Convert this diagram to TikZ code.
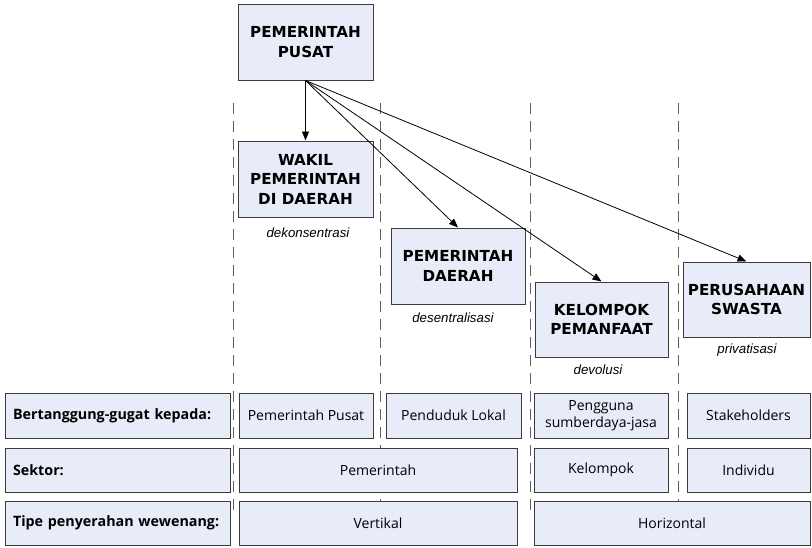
\documentclass[tikz,border=0pt]{standalone}
\usepackage{fontspec}
\setmainfont{Open Sans}
\newfontfamily\titlefont{DejaVu Sans}
\newfontfamily\notefont{Liberation Sans}
\usetikzlibrary{arrows.meta}
\definecolor{boxfill}{HTML}{E8ECF8}
\definecolor{boxline}{HTML}{3C3C3C}
\definecolor{sepline}{HTML}{606060}
\tikzset{
  box/.style={draw=boxline, fill=boxfill, line width=1pt, inner sep=0pt, align=center},
  titlebox/.style={box, font=\titlefont\bfseries\fontsize{15.2}{19.5}\selectfont},
  rowlabel/.style={box, font=\bfseries\fontsize{14.3}{16}\selectfont, text width=209pt, inner xsep=8pt, align=left, minimum width=225pt},
  cell/.style={box, font=\fontsize{14}{17}\selectfont},
  note/.style={font=\notefont\itshape\fontsize{13.3}{15}\selectfont},
  flow/.style={-{Triangle[length=9pt,width=7pt]}, line width=0.8pt, black},
  separator/.style={draw=sepline, line width=1pt, dash pattern=on 11pt off 7pt}
}
\begin{document}
\begin{tikzpicture}[x=1pt,y=-1pt]
\useasboundingbox (0,0) rectangle (812,547);

% column separators (drawn first so the boxes cover them)
\foreach \xs in {233,380,530,678}
  \draw[separator] (\xs,103) -- (\xs,510);

% organisational units
\node[titlebox, minimum width=135pt, minimum height=76pt] (pusat) at (305.5,42) {PEMERINTAH\\PUSAT};
\node[titlebox, minimum width=135pt, minimum height=76pt] (wakil) at (305.5,179) {WAKIL\\PEMERINTAH\\DI DAERAH};
\node[titlebox, minimum width=134pt, minimum height=76pt] (daerah) at (458,266) {PEMERINTAH\\DAERAH};
\node[titlebox, minimum width=133pt, minimum height=75pt] (kelompok) at (601.5,319.5) {KELOMPOK\\PEMANFAAT};
\node[titlebox, minimum width=127pt, minimum height=75pt] (swasta) at (746.5,299.5) {PERUSAHAAN\\SWASTA};

% type of transfer under each unit
\node[note] (dek) at (308,233) {dekonsentrasi};
\node[note] (des) at (453,318) {desentralisasi};
\node[note] (dev) at (598,370) {devolusi};
\node[note] (priv) at (747,350) {privatisasi};

% transfer arrows
\draw[flow] (pusat.south) -- (wakil.north);
\draw[flow] (pusat.south) -- (daerah.north);
\draw[flow] (pusat.south) -- (kelompok.north);
\draw[flow] (pusat.south) -- (swasta.north);

% row headings
\node[rowlabel, minimum height=45pt] (r1) at (117.5,415.5) {Bertanggung-gugat kepada:};
\node[rowlabel, minimum height=44pt] (r2) at (117.5,470) {Sektor:};
\node[rowlabel, minimum height=44pt] (r3) at (117.5,523) {Tipe penyerahan wewenang:};

% accountability
\node[cell, minimum width=134pt, minimum height=45pt] (a1) at (306,415.5) {Pemerintah Pusat};
\node[cell, minimum width=135pt, minimum height=45pt] (a2) at (453.5,415.5) {Penduduk Lokal};
\node[cell, minimum width=134pt, minimum height=45pt] (a3) at (601,415.5) {Pengguna\\sumberdaya-jasa};
\node[cell, minimum width=123pt, minimum height=45pt] (a4) at (748.5,415.5) {Stakeholders};

% sector
\node[cell, minimum width=278pt, minimum height=44pt] (s1) at (378,470) {Pemerintah};
\node[cell, minimum width=134pt, minimum height=44pt] (s2) at (601,470) {Kelompok};
\node[cell, minimum width=123pt, minimum height=44pt] (s3) at (748.5,470) {Individu};

% type of delegation
\node[cell, minimum width=278pt, minimum height=44pt] (t1) at (378,523) {Vertikal};
\node[cell, minimum width=276pt, minimum height=44pt] (t2) at (672,523) {Horizontal};
\end{tikzpicture}
\end{document}
